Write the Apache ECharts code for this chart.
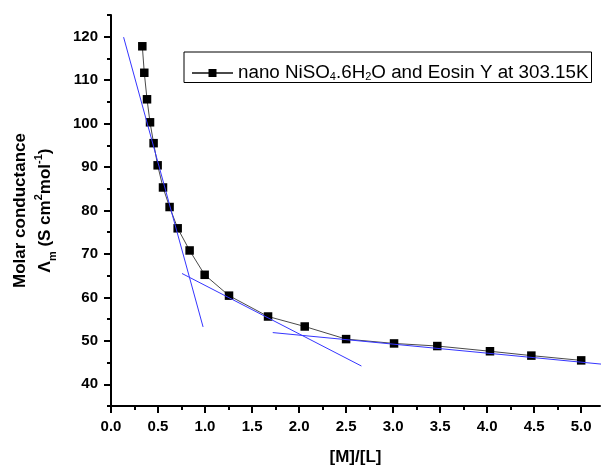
<!DOCTYPE html>
<html>
<head>
<meta charset="utf-8">
<script src="https://cdn.jsdelivr.net/npm/echarts@6/dist/echarts.min.js"></script>
<style>
html, body { margin: 0; padding: 0; background: #fff; }
#chart { width: 612px; height: 471px; }
</style>
</head>
<body>
<div id="chart"></div>
<script>
// Metal-to-ligand mole ratio and measured molar conductance
const ratio = [0.333, 0.354, 0.383, 0.415, 0.453, 0.496, 0.553, 0.623, 0.709, 0.836,
               0.996, 1.255, 1.67, 2.06, 2.50, 3.01, 3.47, 4.03, 4.47, 5.00];
const conductance = [117.8, 111.7, 105.6, 100.3, 95.5, 90.4, 85.3, 80.8, 75.9, 70.8,
                     65.2, 60.4, 55.6, 53.3, 50.4, 49.4, 48.8, 47.6, 46.6, 45.5];

// Straight-line fits of the three regions (end points)
const fitSteep = [[0.134, 119.9], [0.979, 53.2]];
const fitMid = [[0.755, 65.5], [2.663, 44.2]];
const fitFlat = [[1.72, 51.9], [5.33, 44.4]];

// Axis ticks
const xMajorTicks = [0, 0.5, 1.0, 1.5, 2.0, 2.5, 3.0, 3.5, 4.0, 4.5, 5.0];
const xMinorTicks = [0.25, 0.75, 1.25, 1.75, 2.25, 2.75, 3.25, 3.75, 4.25, 4.75];
const yMajorTicks = [40, 50, 60, 70, 80, 90, 100, 110, 120];
const yMinorTicks = [35, 45, 55, 65, 75, 85, 95, 105, 115, 125];

const FONT = "'Liberation Sans', Arial, sans-serif";
const points = ratio.map((x, i) => [x, conductance[i]]);

const chart = echarts.init(document.getElementById('chart'), null, { renderer: 'canvas' });

const axisLine = { show: true, lineStyle: { color: '#000', width: 2 } };

const fitLine = (data) => ({
  type: 'line',
  data: data,
  xAxisIndex: 0,
  yAxisIndex: 0,
  symbol: 'none',
  clip: false,
  silent: true,
  z: 5,
  lineStyle: { color: '#3535ff', width: 1 }
});

chart.setOption({
  backgroundColor: '#fff',
  animation: false,
  grid: { left: 111, right: 12, top: 15, bottom: 62 },
  legend: {
    data: ['nano'],
    left: 184,
    top: 52,
    padding: [0, 3, 0, 7],
    borderColor: '#000',
    borderWidth: 1,
    itemWidth: 41,
    itemHeight: 10,
    itemGap: 0,
    formatter: () => '{t|nano NiSO}{s|4}{t|.6H}{s|2}{t|O and Eosin Y at 303.15K}',
    textStyle: {
      rich: {
        t: { fontFamily: FONT, fontSize: 18.8, color: '#000', lineHeight: 18, verticalAlign: 'middle' },
        s: { fontFamily: FONT, fontSize: 11, color: '#000', lineHeight: 8, padding: [19, 0, 0, 0], verticalAlign: 'bottom' }
      }
    }
  },
  xAxis: [
    {
      type: 'value',
      min: 0,
      max: 5.2,
      position: 'bottom',
      name: '[M]/[L]',
      nameLocation: 'middle',
      nameGap: 43,
      nameTextStyle: { fontFamily: FONT, fontSize: 17, fontWeight: 'bold', color: '#000' },
      axisLine: axisLine,
      axisTick: { show: true, customValues: xMajorTicks, length: 7, lineStyle: { color: '#000', width: 2 } },
      axisLabel: {
        customValues: xMajorTicks,
        margin: 13,
        fontFamily: FONT,
        fontSize: 15,
        fontWeight: 'bold',
        color: '#000',
        formatter: (v) => v.toFixed(1)
      },
      splitLine: { show: false }
    },
    {
      type: 'value',
      min: 0,
      max: 5.2,
      position: 'bottom',
      axisLine: { show: false },
      axisTick: { show: true, customValues: xMinorTicks, length: 4, lineStyle: { color: '#000', width: 2 } },
      axisLabel: { show: false },
      splitLine: { show: false }
    }
  ],
  yAxis: [
    {
      type: 'value',
      min: 35,
      max: 125,
      position: 'left',
      name: '{t|Molar conductance}\n{t|Λ}{sb|m}{t| (S cm}{sp|2}{t|mol}{sp|-1}{t|)}',
      nameLocation: 'middle',
      nameRotate: 90,
      nameGap: 53,
      nameTextStyle: {
        rich: {
          t: { fontFamily: FONT, fontSize: 17, fontWeight: 'bold', color: '#000', lineHeight: 25, verticalAlign: 'middle' },
          sb: { fontFamily: FONT, fontSize: 11, fontWeight: 'bold', color: '#000', lineHeight: 25, verticalAlign: 'bottom' },
          sp: { fontFamily: FONT, fontSize: 11, fontWeight: 'bold', color: '#000', lineHeight: 25, verticalAlign: 'top' }
        }
      },
      axisLine: axisLine,
      axisTick: { show: true, customValues: yMajorTicks, length: 7, lineStyle: { color: '#000', width: 2 } },
      axisLabel: {
        customValues: yMajorTicks,
        margin: 13,
        fontFamily: FONT,
        fontSize: 15,
        fontWeight: 'bold',
        color: '#000'
      },
      splitLine: { show: false }
    },
    {
      type: 'value',
      min: 35,
      max: 125,
      position: 'left',
      axisLine: { show: false },
      axisTick: { show: true, customValues: yMinorTicks, length: 4, lineStyle: { color: '#000', width: 2 } },
      axisLabel: { show: false },
      splitLine: { show: false }
    }
  ],
  series: [
    {
      name: 'nano',
      type: 'line',
      data: points,
      xAxisIndex: 0,
      yAxisIndex: 0,
      symbol: 'rect',
      symbolSize: 8.5,
      z: 3,
      itemStyle: { color: '#000' },
      lineStyle: { color: '#4a4a4a', width: 1 }
    },
    fitLine(fitSteep),
    fitLine(fitMid),
    fitLine(fitFlat)
  ]
});
</script>
</body>
</html>
